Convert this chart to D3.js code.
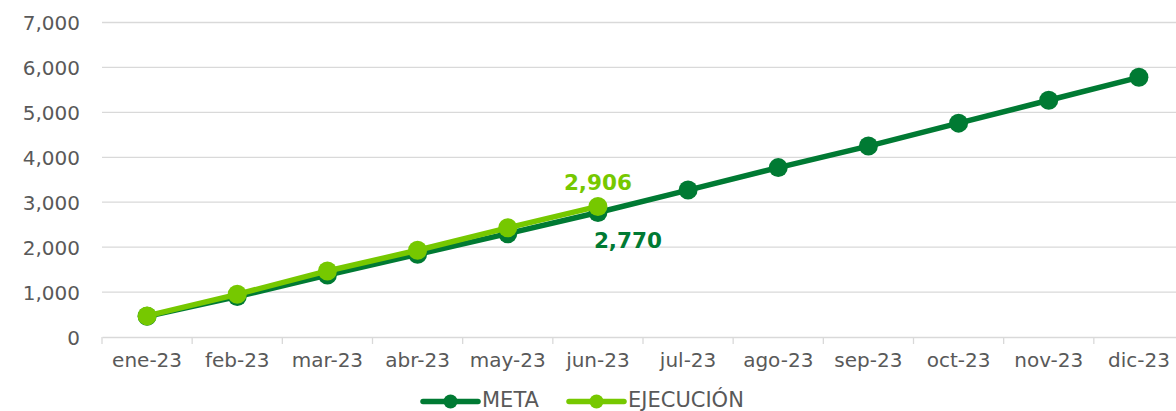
<!DOCTYPE html>
<html><head><meta charset="utf-8">
<script src="https://cdn.jsdelivr.net/npm/d3@7"></script>
<style>body{margin:0;background:#fff}svg{display:block}</style>
</head><body>
<svg id="c" width="1176" height="411"></svg>
<script>
const categories = ["ene-23","feb-23","mar-23","abr-23","may-23","jun-23","jul-23","ago-23","sep-23","oct-23","nov-23","dic-23"];
const metaValues = [460, 900, 1380, 1840, 2300, 2770, 3270, 3770, 4250, 4760, 5270, 5780];
const ejecValues = [470, 950, 1470, 1930, 2430, 2906];
const yTicks = [0, 1000, 2000, 3000, 4000, 5000, 6000, 7000];
const seriesNames = ["META", "EJECUCIÓN"];

const svg = d3.select("#c");
const font = "'DejaVu Sans', Verdana, sans-serif";
const cMeta = "#007a33", cEjec = "#76c800", grey = "#595959", grid = "#d9d9d9";

const x = d3.scaleBand().domain(categories).range([102, 1184]);
const y = d3.scaleLinear().domain([0, 7000]).range([337, 22.5]);
const cx = d => x(d) + x.bandwidth() / 2;

// gridlines
svg.append("g").selectAll("line").data(yTicks.filter(v => v > 0)).join("line")
  .attr("x1", 102).attr("x2", 1184).attr("y1", d => y(d)).attr("y2", d => y(d))
  .attr("stroke", grid).attr("stroke-width", 1.3);

// y axis labels
const ya = svg.append("g").attr("transform", "translate(80,0)")
  .call(d3.axisLeft(y).tickValues(yTicks).tickFormat(d3.format(",")).tickSize(0).tickPadding(0));
ya.select(".domain").remove();
ya.selectAll("text").attr("font-family", font).attr("font-size", 20).attr("fill", grey).attr("dy", "0.36em");

// x axis
const xa = svg.append("g").attr("transform", "translate(0,337)")
  .call(d3.axisBottom(x).tickSize(0).tickPadding(12));
xa.select(".domain").attr("stroke", grid).attr("stroke-width", 1.3);
xa.selectAll("text").attr("font-family", font).attr("font-size", 20).attr("fill", grey).attr("dy", "0.88em");
svg.append("g").selectAll("line").data(d3.range(categories.length + 1)).join("line")
  .attr("x1", i => 102 + i * x.step()).attr("x2", i => 102 + i * x.step())
  .attr("y1", 337).attr("y2", 344).attr("stroke", grid).attr("stroke-width", 1.3);

const line = d3.line().x((d, i) => cx(categories[i])).y(d => y(d));

function drawSeries(vals, color) {
  const g = svg.append("g");
  g.append("path").datum(vals).attr("d", line).attr("fill", "none")
    .attr("stroke", color).attr("stroke-width", 5.5).attr("stroke-linejoin", "round");
  g.selectAll("circle").data(vals).join("circle")
    .attr("cx", (d, i) => cx(categories[i])).attr("cy", d => y(d)).attr("r", 9.5).attr("fill", color);
}
drawSeries(metaValues, cMeta);
drawSeries(ejecValues, cEjec);

// data labels
const fmt = d3.format(",");
const last = ejecValues.length - 1;
svg.append("text").attr("x", cx(categories[last])).attr("y", y(ejecValues[last]) - 16)
  .attr("text-anchor", "middle").attr("font-family", font).attr("font-weight", "bold")
  .attr("font-size", 21.5).attr("fill", cEjec).text(fmt(ejecValues[last]));
svg.append("text").attr("x", cx(categories[last]) + 30).attr("y", y(metaValues[last]) + 35)
  .attr("text-anchor", "middle").attr("font-family", font).attr("font-weight", "bold")
  .attr("font-size", 21.5).attr("fill", cMeta).text(fmt(metaValues[last]));

// legend
const legend = [{name: seriesNames[0], color: cMeta, x0: 423}, {name: seriesNames[1], color: cEjec, x0: 569}];
const lg = svg.append("g");
legend.forEach(l => {
  lg.append("line").attr("x1", l.x0).attr("x2", l.x0 + 55).attr("y1", 401.5).attr("y2", 401.5)
    .attr("stroke", l.color).attr("stroke-width", 5.5).attr("stroke-linecap", "round");
  lg.append("circle").attr("cx", l.x0 + 27.5).attr("cy", 401.5).attr("r", 7).attr("fill", l.color);
  lg.append("text").attr("x", l.x0 + 59).attr("y", 407).attr("font-family", font)
    .attr("font-size", 21).attr("fill", grey).text(l.name);
});
</script>
</body></html>
